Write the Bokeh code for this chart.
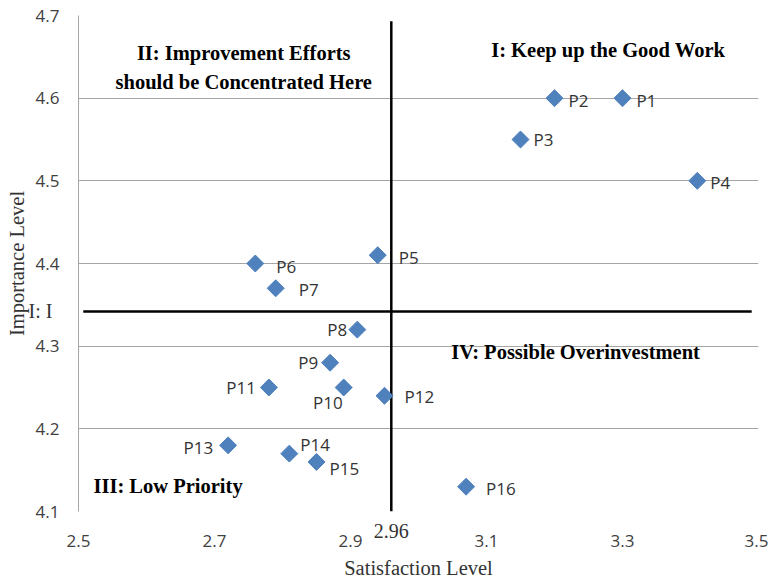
import numpy as np
from bokeh.plotting import figure
from bokeh.models import (ColumnDataSource, FixedTicker, Label, Range1d,
                          LinearAxis, PrintfTickFormatter, Grid)
from bokeh.embed import file_html
from bokeh.resources import INLINE
from bokeh.core.properties import value

# ---- data ----
names = ["P1", "P2", "P3", "P4", "P5", "P6", "P7", "P8", "P9", "P10",
         "P11", "P12", "P13", "P14", "P15", "P16"]
satisfaction = [3.30, 3.20, 3.15, 3.41, 2.94, 2.76, 2.79, 2.91, 2.87, 2.89,
                2.78, 2.95, 2.72, 2.81, 2.85, 3.07]
importance = [4.60, 4.60, 4.55, 4.50, 4.41, 4.40, 4.37, 4.32, 4.28, 4.25,
              4.25, 4.24, 4.18, 4.17, 4.16, 4.13]
x_ticks = [2.5, 2.7, 2.9, 3.1, 3.3, 3.5]
y_ticks = [4.1, 4.2, 4.3, 4.4, 4.5, 4.6, 4.7]
mean_satisfaction = 2.96
mean_importance = 4.342

# ---- label placement (pixels, +dy = down) ----
label_dx = [14, 14, 13, 13, 21, 21, 23, -10, -12, -1, -13, 20, -15, 11, 13, 20]
label_dy = [2, 2, 0, 2, 2, 3, 1, 0, 0, 15, 0, 1, 2, -9, 7, 2]
label_align = ["left", "left", "left", "left", "left", "left", "left", "right",
               "right", "right", "right", "left", "right", "left", "left", "left"]

src = ColumnDataSource(dict(x=satisfaction, y=importance, name=names,
                            dx=label_dx, dy=label_dy, align=label_align))

p = figure(width=768, height=581, output_backend="svg", toolbar_location=None,
           x_range=Range1d(x_ticks[0], x_ticks[-1]),
           y_range=Range1d(y_ticks[0], y_ticks[-1]),
           x_axis_location=None, y_axis_location=None,
           min_border_left=78, min_border_top=15, min_border_right=10,
           min_border_bottom=68)
p.outline_line_color = None
p.background_fill_color = "white"
p.grid.visible = False

# horizontal grid lines
p.add_layout(Grid(dimension=1, ticker=FixedTicker(ticks=y_ticks),
                  grid_line_color="#a6a6a6", grid_line_width=1))


def make_axis(ticks, standoff, font, size, fmt=None, style="normal",
              color="#404040"):
    kw = {}
    if fmt is not None:
        kw["formatter"] = PrintfTickFormatter(format=fmt)
    return LinearAxis(ticker=FixedTicker(ticks=ticks), axis_line_color=None,
                      major_tick_line_color=None, minor_tick_line_color=None,
                      major_tick_out=0, major_tick_in=0, minor_tick_out=0,
                      major_label_standoff=standoff,
                      major_label_text_font=font,
                      major_label_text_font_size=size,
                      major_label_text_font_style=style,
                      major_label_text_color=color, **kw)


title_kw = dict(axis_label_text_font="Liberation Serif",
                axis_label_text_font_style="normal",
                axis_label_text_font_size="20.5px",
                axis_label_text_color="#333333")

# below: inner axis carries the 2.96 value, outer the regular ticks + title
ax_mean_x = make_axis([mean_satisfaction], 12, "Liberation Serif", "20px",
                      fmt="%.2f", color="#333333")
p.add_layout(ax_mean_x, "below")
ax_x = make_axis(x_ticks, -6, "Open Sans", "17px")
ax_x.axis_label = "Satisfaction Level"
ax_x.axis_label_standoff = 7
for k, v in title_kw.items():
    setattr(ax_x, k, v)
p.add_layout(ax_x, "below")

# left: inner axis regular ticks (with gray axis line), outer the "I: I" text + title
ax_y = make_axis(y_ticks, 19, "Open Sans", "17px")
ax_y.axis_line_color = "#a6a6a6"
p.add_layout(ax_y, "left")
ax_mean_y = make_axis([mean_importance], -20, "Liberation Serif", "20px",
                      fmt="I: I", color="#333333")
ax_mean_y.axis_label = "Importance Level"
ax_mean_y.axis_label_standoff = -2
for k, v in title_kw.items():
    setattr(ax_mean_y, k, v)
p.add_layout(ax_mean_y, "left")

# quadrant lines
p.segment(x0=[x_ticks[0] + 0.007], y0=[mean_importance],
          x1=[x_ticks[-1] - 0.01], y1=[mean_importance],
          line_color="black", line_width=2.5)
p.segment(x0=[mean_satisfaction], y0=[y_ticks[0]],
          x1=[mean_satisfaction], y1=[y_ticks[-1] - 0.007],
          line_color="black", line_width=2.5)

# points
p.scatter("x", "y", source=src, marker="square", angle=np.pi / 4, size=12,
          fill_color="#4F81BD", line_color="#4F81BD")
p.text("x", "y", text="name", source=src, x_offset="dx", y_offset="dy",
       text_align="align", text_baseline="middle",
       text_font=value("Open Sans"), text_font_size="17px",
       text_color="#333333")

# quadrant titles
qfont = dict(text_font="Liberation Serif", text_font_style="bold",
             text_font_size="20.5px", text_color="black",
             text_baseline="middle")
p.add_layout(Label(x=2.743, y=4.655, text="II: Improvement Efforts",
                   text_align="center", **qfont))
p.add_layout(Label(x=2.743, y=4.619, text="should be Concentrated Here",
                   text_align="center", **qfont))
p.add_layout(Label(x=3.279, y=4.658, text="I: Keep up the Good Work",
                   text_align="center", **qfont))
p.add_layout(Label(x=3.231, y=4.293, text="IV: Possible Overinvestment",
                   text_align="center", **qfont))
p.add_layout(Label(x=2.522, y=4.131, text="III: Low Priority",
                   text_align="left", **qfont))

open("out.html", "w").write(file_html(p, INLINE))
